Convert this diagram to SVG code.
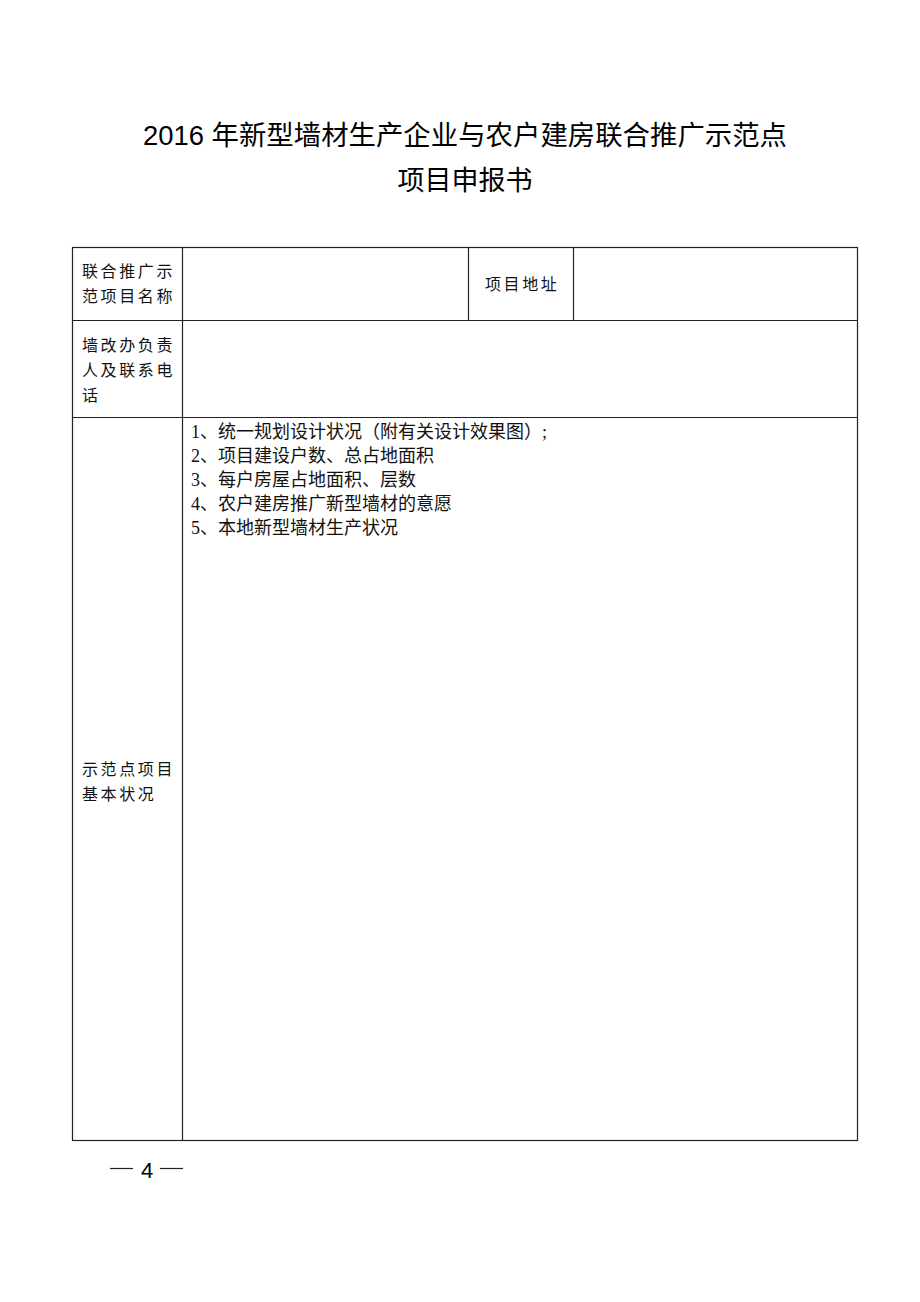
<svg xmlns="http://www.w3.org/2000/svg" width="920" height="1302" viewBox="0 0 920 1302">
<style>
.title{font-family:"Liberation Sans","Noto Sans CJK SC",sans-serif;font-size:27px;fill:#000;text-anchor:middle}
.lbl{font-family:"Noto Sans CJK SC",sans-serif;font-size:16px;fill:#111;letter-spacing:2.6px}
.item{font-family:"Liberation Serif","Noto Sans CJK SC",serif;font-size:18px;fill:#111}
.ln{stroke:#222;stroke-width:1.2;fill:none}
</style>
<rect width="920" height="1302" fill="#fff"/>
<g id="title">
<text class="title" x="465" y="145" textLength="644" lengthAdjust="spacingAndGlyphs">2016 年新型墙材生产企业与农户建房联合推广示范点</text>
<text class="title" x="465" y="190">项目申报书</text>
</g>
<g id="table">
<rect class="ln" x="72.5" y="247.5" width="785" height="893"/>
<line class="ln" x1="182.5" y1="247" x2="182.5" y2="1141"/>
<line class="ln" x1="72" y1="320.5" x2="858" y2="320.5"/>
<line class="ln" x1="72" y1="417.5" x2="858" y2="417.5"/>
<line class="ln" x1="468.5" y1="247" x2="468.5" y2="320"/>
<line class="ln" x1="573.5" y1="247" x2="573.5" y2="320"/>
</g>
<g id="row1">
<text class="lbl" x="82" y="277">联合推广示</text>
<text class="lbl" x="82" y="302">范项目名称</text>
<text class="lbl" x="485" y="290">项目地址</text>
</g>
<g id="row2">
<text class="lbl" x="82" y="351">墙改办负责</text>
<text class="lbl" x="82" y="376">人及联系电</text>
<text class="lbl" x="82" y="401">话</text>
</g>
<g id="row3">
<text class="lbl" x="82" y="775">示范点项目</text>
<text class="lbl" x="82" y="800">基本状况</text>
<text class="item" x="191" y="438">1、统一规划设计状况（附有关设计效果图）;</text>
<text class="item" x="191" y="462">2、项目建设户数、总占地面积</text>
<text class="item" x="191" y="486">3、每户房屋占地面积、层数</text>
<text class="item" x="191" y="510">4、农户建房推广新型墙材的意愿</text>
<text class="item" x="191" y="534">5、本地新型墙材生产状况</text>
</g>
<g id="footer">
<line class="ln" x1="110" y1="1168.5" x2="133" y2="1168.5"/>
<text x="147" y="1178" font-family="Liberation Sans,sans-serif" font-size="22" fill="#000" text-anchor="middle">4</text>
<line class="ln" x1="160" y1="1168.5" x2="183" y2="1168.5"/>
</g>
</svg>
